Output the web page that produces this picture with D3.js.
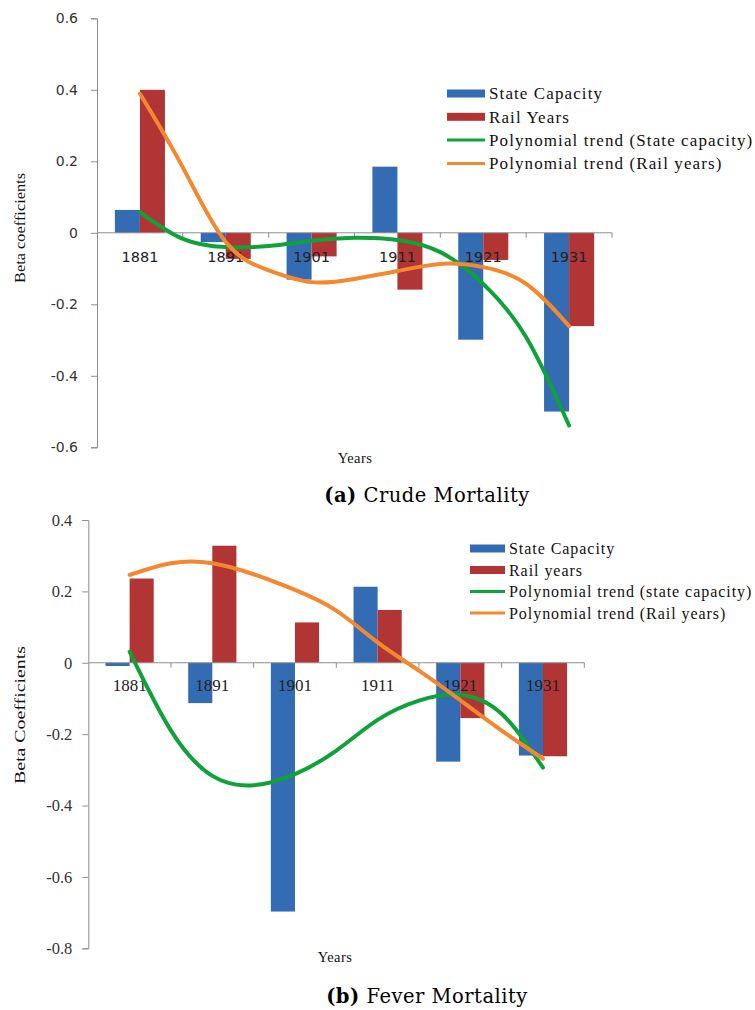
<!DOCTYPE html>
<html>
<head>
<meta charset="utf-8">
<script src="https://cdn.jsdelivr.net/npm/d3@7"></script>
<style>
  body { margin: 0; background: #fff; }
  svg { display: block; }
</style>
</head>
<body>
<div id="chart"></div>
<script>
// data
const years = ["1881", "1891", "1901", "1911", "1921", "1931"];

// (a) crude mortality
const crudeState = [0.064, -0.026, -0.131, 0.185, -0.299, -0.50];
const crudeRail = [0.40, -0.073, -0.066, -0.159, -0.076, -0.261];

// (b) fever mortality
const feverState = [-0.009, -0.113, -0.697, 0.213, -0.277, -0.26];
const feverRail = [0.236, 0.328, 0.113, 0.148, -0.155, -0.262];

// trend lines read at each year and half way between years (index positions)
const trendSteps = [0, 0.5, 1, 1.5, 2, 2.5, 3, 3.5, 4, 4.5, 5];
const crudeStateTrend = [0.058, -0.017, -0.04, -0.037, -0.022, -0.014, -0.02, -0.054, -0.143, -0.292, -0.539];
const crudeRailTrend = [0.389, 0.183, -0.026, -0.105, -0.138, -0.129, -0.107, -0.087, -0.096, -0.143, -0.261];
const feverStateTrend = [0.031, -0.19, -0.317, -0.343, -0.312, -0.246, -0.16, -0.106, -0.09, -0.143, -0.294];
const feverRailTrend = [0.246, 0.279, 0.279, 0.248, 0.204, 0.146, 0.057, -0.022, -0.105, -0.19, -0.269];

// tick labels
const crudeTicks = [-0.6, -0.4, -0.2, 0, 0.2, 0.4, 0.6];
const feverTicks = [-0.8, -0.6, -0.4, -0.2, 0, 0.2, 0.4];

const colors = {
    state: "#336cb2",
    rail: "#b23535",
    stateTrend: "#0fa23a",
    railTrend: "#f5882f",
    axis: "#8e8e8e"
};

const serif = "'Liberation Serif', 'Times New Roman', serif";

const svg = d3.select("#chart").append("svg")
    .attr("width", 755)
    .attr("height", 1010);

function drawPanel(opt) {
    const g = svg.append("g");

    let x = d3.scaleBand()
        .domain(years)
        .range([opt.left, opt.right])
        .paddingInner(0.417)
        .paddingOuter(0.2085);

    let sub = d3.scaleBand()
        .domain(["state", "rail"])
        .range([0, x.bandwidth()]);

    let y = d3.scaleLinear()
        .domain(opt.domain)
        .range([opt.bottom, opt.top]);

    // trend x positions are year indices
    let xi = d3.scaleLinear()
        .domain([0, years.length - 1])
        .range([x(years[0]) + x.bandwidth() / 2, x(years[years.length - 1]) + x.bandwidth() / 2]);

    // y axis
    let yAxis = g.append("g")
        .attr("transform", `translate(${opt.left},0)`)
        .call(d3.axisLeft(y)
            .tickValues(opt.ticks)
            .tickSize(6)
            .tickPadding(opt.tickPad)
            .tickFormat(d => d === 0 ? "0" : d.toFixed(1)));
    yAxis.attr("font-family", null);
    yAxis.selectAll("path, line").attr("stroke", colors.axis);
    yAxis.selectAll("text")
        .style("font-family", opt.tickFont)
        .style("font-size", opt.tickSize + "px")
        .attr("fill", "#333");

    // bars
    let rows = years.map((yr, i) => ({ year: yr, state: opt.state[i], rail: opt.rail[i] }));
    g.append("g").selectAll("g")
        .data(rows)
        .join("g")
        .attr("transform", d => `translate(${x(d.year)},0)`)
        .selectAll("rect")
        .data(d => ["state", "rail"].map(k => ({ key: k, value: d[k] })))
        .join("rect")
        .attr("x", d => sub(d.key))
        .attr("width", sub.bandwidth())
        .attr("y", d => y(Math.max(0, d.value)))
        .attr("height", d => Math.abs(y(d.value) - y(0)))
        .attr("fill", d => colors[d.key]);

    // x axis at zero
    let xa = g.append("g");
    xa.append("line")
        .attr("x1", opt.left).attr("x2", opt.right)
        .attr("y1", y(0)).attr("y2", y(0))
        .attr("stroke", colors.axis);
    xa.selectAll(".tk")
        .data(d3.range(1, years.length + 1))
        .join("line")
        .attr("x1", i => opt.left + i * x.step())
        .attr("x2", i => opt.left + i * x.step())
        .attr("y1", y(0)).attr("y2", y(0) + 5)
        .attr("stroke", colors.axis);
    xa.selectAll("text")
        .data(years)
        .join("text")
        .attr("x", d => x(d) + x.bandwidth() / 2)
        .attr("y", y(0) + opt.yearDy)
        .attr("text-anchor", "middle")
        .style("font-family", opt.tickFont)
        .style("font-size", opt.yearSize + "px")
        .attr("fill", "#222")
        .text(d => d);

    // polynomial trends
    let line = d3.line()
        .x(d => xi(d[0]))
        .y(d => y(d[1]))
        .curve(d3.curveNatural);
    [["stateTrend", opt.stateTrend], ["railTrend", opt.railTrend]].forEach(([k, vals]) => {
        g.append("path")
            .datum(trendSteps.map((s, i) => [s, vals[i]]))
            .attr("d", line)
            .attr("fill", "none")
            .attr("stroke", colors[k])
            .attr("stroke-width", 4)
            .attr("stroke-linecap", "round");
    });

    // legend
    let leg = g.append("g").attr("transform", `translate(${opt.legX},${opt.legY})`);
    let items = [
        { kind: "bar", c: colors.state, t: opt.legend[0] },
        { kind: "bar", c: colors.rail, t: opt.legend[1] },
        { kind: "line", c: colors.stateTrend, t: opt.legend[2] },
        { kind: "line", c: colors.railTrend, t: opt.legend[3] }
    ];
    items.forEach((it, i) => {
        let row = leg.append("g").attr("transform", `translate(0,${i * opt.legStep})`);
        if (it.kind === "bar") {
            row.append("rect").attr("x", 0).attr("y", -4).attr("width", opt.swatch).attr("height", 8).attr("fill", it.c);
        } else {
            row.append("line").attr("x1", 0).attr("x2", opt.swatch).attr("y1", 0).attr("y2", 0)
                .attr("stroke", it.c).attr("stroke-width", 3);
        }
        row.append("text")
            .attr("x", opt.swatch + 4)
            .attr("y", 0)
            .attr("dy", "0.35em")
            .style("font-family", serif)
            .style("font-size", opt.legSize + "px")
            .style("letter-spacing", opt.legSpacing + "px")
            .attr("fill", "#111")
            .text(it.t);
    });

    // axis titles
    g.append("text")
        .attr("transform", `translate(${opt.yTitleX},${opt.yTitleY}) rotate(-90)`)
        .attr("text-anchor", "middle")
        .style("font-family", serif)
        .style("font-size", "14px")
        .attr("textLength", opt.yTitleLen)
        .attr("lengthAdjust", "spacingAndGlyphs")
        .attr("fill", "#111")
        .text(opt.yTitle);

    g.append("text")
        .attr("x", opt.xTitleX)
        .attr("y", opt.xTitleY)
        .attr("text-anchor", "middle")
        .style("font-family", serif)
        .style("font-size", "14.5px")
        .style("letter-spacing", "0.4px")
        .attr("fill", "#111")
        .text("Years");

    // caption
    let cap = g.append("text")
        .attr("x", 427)
        .attr("y", opt.capY)
        .attr("text-anchor", "middle")
        .style("font-family", "'DejaVu Serif', serif")
        .style("font-size", "19.5px")
        .style("letter-spacing", "0.5px")
        .attr("fill", "#000");
    cap.append("tspan").attr("font-weight", "bold").text(opt.capTag);
    cap.append("tspan").text(" " + opt.caption);
}

drawPanel({
    left: 97, right: 612, top: 18.3, bottom: 447.3,
    domain: [-0.6, 0.6], ticks: crudeTicks,
    state: crudeState, rail: crudeRail,
    stateTrend: crudeStateTrend, railTrend: crudeRailTrend,
    tickFont: "'DejaVu Sans', Verdana, sans-serif", tickSize: 14, tickPad: 13,
    yearSize: 14.5, yearDy: 29,
    legX: 447, legY: 93.5, legStep: 23.3, swatch: 38, legSize: 17, legSpacing: 1.1,
    legend: ["State Capacity", "Rail Years", "Polynomial trend (State capacity)", "Polynomial trend (Rail years)"],
    yTitle: "Beta coefficients", yTitleX: 25, yTitleY: 228, yTitleLen: 110,
    xTitleX: 355, xTitleY: 463,
    capTag: "(a)", caption: "Crude Mortality", capY: 502
});

drawPanel({
    left: 88.3, right: 584.3, top: 520, bottom: 948.3,
    domain: [-0.8, 0.4], ticks: feverTicks,
    state: feverState, rail: feverRail,
    stateTrend: feverStateTrend, railTrend: feverRailTrend,
    tickFont: serif, tickSize: 16.5, tickPad: 10,
    yearSize: 17, yearDy: 28,
    legX: 470, legY: 548.5, legStep: 21.5, swatch: 35, legSize: 16, legSpacing: 0.95,
    legend: ["State Capacity", "Rail years", "Polynomial trend (state capacity)", "Polynomial trend (Rail years)"],
    yTitle: "Beta Coefficients", yTitleX: 25, yTitleY: 715, yTitleLen: 138,
    xTitleX: 335, xTitleY: 962,
    capTag: "(b)", caption: "Fever Mortality", capY: 1003
});
</script>
</body>
</html>
